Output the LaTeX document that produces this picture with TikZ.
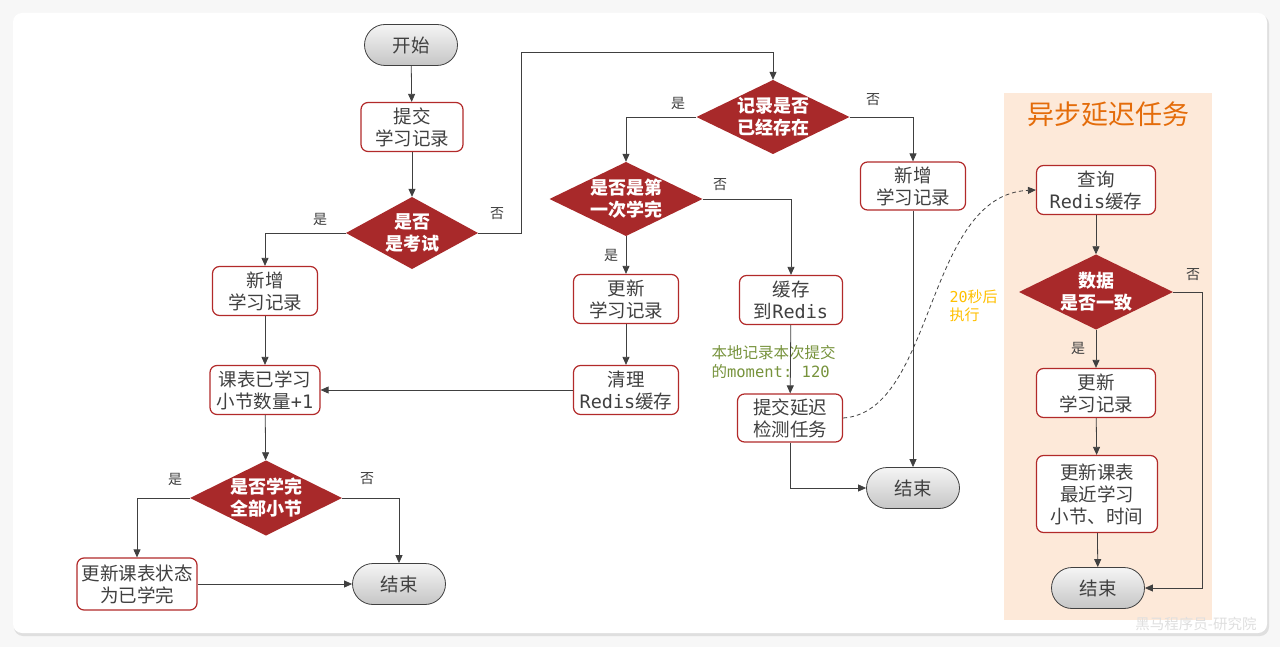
\documentclass[tikz,border=0pt]{standalone}
\usepackage{fontspec}
\setmainfont{Noto Sans CJK SC}
\newfontfamily\mono{DejaVu Sans Mono}
\usetikzlibrary{shapes.geometric,shapes.misc,arrows.meta,calc}
\definecolor{boxred}{HTML}{B22A2A}
\definecolor{diared}{HTML}{A8292A}
\definecolor{txt}{HTML}{404040}
\definecolor{lnc}{HTML}{404040}
\definecolor{peach}{HTML}{FDE9D9}
\definecolor{orangeT}{HTML}{E46C0A}
\definecolor{goldT}{HTML}{FFC000}
\definecolor{greenT}{HTML}{77933C}
\newcommand{\mo}[1]{{\mono #1}}
\tikzset{
  procbox/.style={draw=boxred, line width=1.2pt, rounded corners=7pt, fill=white, text=txt,
    align=center, font=\fontsize{18.5}{22}\selectfont, inner sep=0pt},
  dtext/.style={rectangle, draw=none, text=white, align=center, inner sep=0pt,
    font=\fontsize{18}{22}\selectfont\bfseries},
  term/.style={rounded rectangle, draw=black!75, line width=0.8pt, top color=gray!8, bottom color=gray!45,
    text=txt, font=\fontsize{18.5}{22}\selectfont, minimum width=93pt, minimum height=41pt, inner sep=0pt},
  conn/.style={draw=lnc, line width=0.8pt, -{Triangle[length=8pt,width=7pt]}},
  lab/.style={text=txt, font=\fontsize{14}{16}\selectfont},
}
% decision: name, x, y, width, height, text
\newcommand{\decision}[6]{%
  \fill[diared] (#2-#4/2,#3) -- (#2,#3-#5/2) -- (#2+#4/2,#3) -- (#2,#3+#5/2) -- cycle;
  \node[dtext, minimum width=#4pt, minimum height=#5pt] (#1) at (#2,#3) {#6};}
\begin{document}
\begin{tikzpicture}[x=1pt,y=-1pt]
\useasboundingbox (0,0) rectangle (1280,647);
\fill[gray!6] (0,0) rectangle (1280,647);
\fill[gray!25,rounded corners=9pt] (14,15) rectangle (1269,636);
\fill[white,rounded corners=9pt] (13,13) rectangle (1267,633);
% right panel
\fill[peach] (1004,93) rectangle (1212,620);
\node[text=orangeT, font=\fontsize{27}{30}\selectfont] (title) at (1108,114) {异步延迟任务};
% nodes
\node[term] (start) at (411,45) {开始};
\node[procbox, minimum width=102pt, minimum height=49pt] (submit) at (412,127) {提交\\学习记录};
\decision{exam}{412}{233}{132}{72}{是否\\是考试}
\node[procbox, minimum width=105pt, minimum height=49pt] (newA) at (265,291) {新增\\学习记录};
\node[procbox, minimum width=110pt, minimum height=49pt] (plus) at (265,390) {课表已学习\\小节数量\mo{+1}};
\decision{allDone}{266}{498}{152}{75}{是否学完\\全部小节}
\node[procbox, minimum width=120pt, minimum height=52pt] (status) at (137,584) {更新课表状态\\为已学完};
\node[term] (end1) at (399,584) {结束};
\decision{exists}{773}{117}{153}{74}{记录是否\\已经存在}
\decision{first}{626}{199}{153}{74}{是否是第\\一次学完}
\node[procbox, minimum width=105pt, minimum height=49pt] (upd) at (626,299) {更新\\学习记录};
\node[procbox, minimum width=105pt, minimum height=49pt] (clean) at (626,390) {清理\\\mo{Redis}缓存};
\node[procbox, minimum width=103pt, minimum height=49pt] (cache) at (791,300) {缓存\\到\mo{Redis}};
\node[procbox, minimum width=105pt, minimum height=48pt] (delay) at (790,418) {提交延迟\\检测任务};
\node[procbox, minimum width=105pt, minimum height=48pt] (newB) at (913,186) {新增\\学习记录};
\node[term] (end2) at (913,488) {结束};
\node[procbox, minimum width=119pt, minimum height=49pt] (query) at (1096,190) {查询\\\mo{Redis}缓存};
\decision{consist}{1096}{292}{154}{75}{数据\\是否一致}
\node[procbox, minimum width=119pt, minimum height=49pt] (upd2) at (1096,393) {更新\\学习记录};
\node[procbox, minimum width=121pt, minimum height=77pt] (course) at (1097,494) {更新课表\\最近学习\\小节、时间};
\node[term] (end3) at (1098,588) {结束};
% annotations
\node[anchor=west, align=left, text=greenT, font=\fontsize{15.5}{19}\selectfont] (note) at (708,362) {本地记录本次提交\\的\mo{moment:\ 120}};
\node[anchor=west, align=left, text=goldT, font=\fontsize{15}{18}\selectfont] (delayLab) at (946,306) {\mo{20}秒后\\执行};
\node[text=gray!25, font=\fontsize{14.5}{16}\selectfont] (wm) at (1196,624) {黑马程序员-研究院};
% connectors
\draw[conn] (start) -- (submit);
\draw[conn] (submit) -- (exam);
\draw[conn] (exam.west) -| (newA.north);
\node[lab] (l1) at (320,219) {是};
\coordinate (c1) at (521,233);
\coordinate (c2) at (521,52);
\coordinate (c3) at (773,52);
\draw[conn] (exam.east) -- (c1) -- (c2) -- (c3) -- (exists.north);
\node[lab] (l2) at (497,214) {否};
\draw[conn] (newA) -- (plus);
\draw[conn] (plus) -- (allDone);
\draw[conn] (allDone.west) -| (status.north);
\node[lab] (l3) at (175,479) {是};
\draw[conn] (allDone.east) -| (end1.north);
\node[lab] (l4) at (367,479) {否};
\draw[conn] (status.east |- end1.west) -- (end1.west);
\draw[conn] (exists.west) -| (first.north);
\node[lab] (l5) at (678,103) {是};
\draw[conn] (exists.east) -| (newB.north);
\node[lab] (l6) at (873,100) {否};
\draw[conn] (first.east) -| (cache.north);
\node[lab] (l7) at (720,185) {否};
\draw[conn] (first.south) -- (upd.north);
\node[lab] (l8) at (611,255) {是};
\draw[conn] (upd) -- (clean);
\draw[conn] (clean.west) -- (plus.east);
\draw[conn] (cache) -- (delay);
\draw[conn] (delay.south) |- (end2.west);
\draw[conn] (newB) -- (end2);
\draw[conn, dash pattern=on 4pt off 3pt] (delay.east) .. controls (935,412) and (925,195) .. (query.west);
\draw[conn] (query) -- (consist);
\draw[conn] (consist) -- (upd2);
\node[lab] (l9) at (1078,348) {是};
\draw[conn] (upd2) -- (course);
\draw[conn] (course) -- (end3);
\coordinate (c4) at (1202,292);
\draw[conn] (consist.east) -- (c4) |- (end3.east);
\node[lab] (l10) at (1193,275) {否};
\end{tikzpicture}
\end{document}
